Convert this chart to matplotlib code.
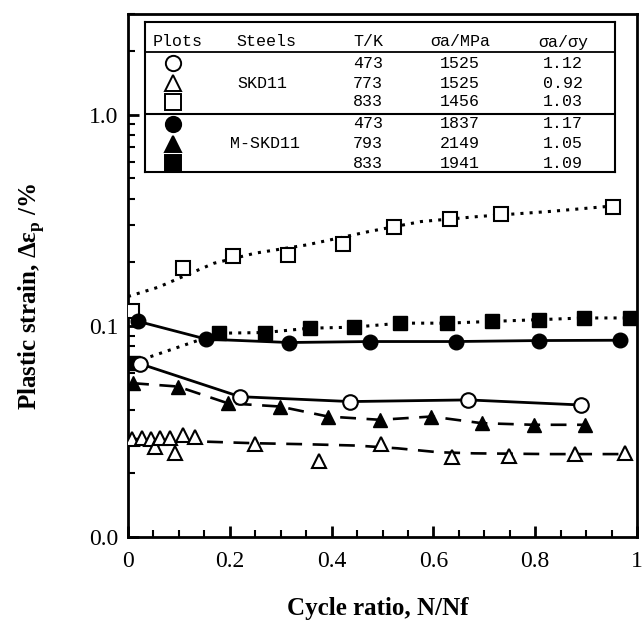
import matplotlib
matplotlib.use('Agg')
import matplotlib.pyplot as plt
from matplotlib.ticker import FixedLocator, FixedFormatter, NullFormatter

# ---------------- data ----------------
# SKD11, 473 K (open circles, solid line)
x_skd_473 = [0.024, 0.220, 0.437, 0.668, 0.890]
y_skd_473 = [0.0661, 0.0462, 0.0438, 0.0446, 0.0422]

# SKD11, 773 K (open triangles, dashed trend line)
x_skd_773 = [0.007, 0.027, 0.046, 0.053, 0.063, 0.082, 0.092, 0.108, 0.131,
             0.250, 0.376, 0.498, 0.637, 0.749, 0.878, 0.976]
y_skd_773 = [0.0290, 0.0294, 0.0290, 0.0266, 0.0294, 0.0294, 0.0251, 0.0304, 0.0299,
             0.0276, 0.0230, 0.0276, 0.0240, 0.0243, 0.0247, 0.0249]
fit_x_skd_773 = [0.0, 0.15, 0.25, 0.35, 0.45, 0.53, 0.61, 0.68, 0.83, 0.98]
fit_y_skd_773 = [0.0292, 0.0283, 0.0278, 0.0275, 0.0271, 0.0263, 0.0252, 0.0249, 0.0247, 0.0247]

# SKD11, 833 K (open squares, dotted trend line)
x_skd_833 = [0.008, 0.108, 0.206, 0.314, 0.423, 0.522, 0.632, 0.732, 0.953]
y_skd_833 = [0.117, 0.1875, 0.215, 0.217, 0.245, 0.294, 0.321, 0.340, 0.365]
fit_x_skd_833 = [0.0, 0.06, 0.108, 0.169, 0.25, 0.352, 0.474, 0.576, 0.691, 0.827, 0.943]
fit_y_skd_833 = [0.1377, 0.1526, 0.1713, 0.198, 0.221, 0.242, 0.280, 0.312, 0.330, 0.348, 0.368]

# M-SKD11, 473 K (filled circles, solid line)
x_m_473 = [0.020, 0.154, 0.316, 0.476, 0.644, 0.807, 0.966]
y_m_473 = [0.105, 0.0865, 0.0834, 0.0843, 0.0843, 0.0852, 0.0855]

# M-SKD11, 793 K (filled triangles, dashed line)
x_m_793 = [0.010, 0.098, 0.196, 0.298, 0.393, 0.495, 0.596, 0.695, 0.797, 0.898]
y_m_793 = [0.0535, 0.0516, 0.0430, 0.0415, 0.0372, 0.0359, 0.0372, 0.0346, 0.0340, 0.0340]

# M-SKD11, 833 K (filled squares, dotted line)
x_m_833 = [0.010, 0.179, 0.269, 0.357, 0.444, 0.535, 0.627, 0.715, 0.807, 0.895, 0.987]
y_m_833 = [0.0670, 0.0923, 0.0930, 0.0975, 0.0986, 0.103, 0.103, 0.105, 0.107, 0.109, 0.109]

# table inside the plot
tab_header = ['Plots', 'Steels', 'T/K', 'σa/MPa', 'σa/σy']
tab_steels = ['SKD11', 'M-SKD11']
tab_temps = ['473', '773', '833', '473', '793', '833']
tab_stress = ['1525', '1525', '1456', '1837', '2149', '1941']
tab_ratio = ['1.12', '0.92', '1.03', '1.17', '1.05', '1.09']

y_ticks = [0.01, 0.1, 1.0]
y_tick_labels = ['0.0', '0.1', '1.0']
x_ticks = [0, 0.2, 0.4, 0.6, 0.8, 1.0]
x_tick_labels = ['0', '0.2', '0.4', '0.6', '0.8', '1']

# ---------------- figure ----------------
plt.rcParams['font.family'] = ['Liberation Serif', 'DejaVu Serif']
W, H = 644, 634
fig = plt.figure(figsize=(W / 100, H / 100), dpi=100)


def fx(px):
    return px / W


def fy(py):
    return 1 - py / H


L, R, T, B = 128, 637, 14, 537
ax = fig.add_axes([fx(L), fy(B), (R - L) / W, (B - T) / H])
ax.set_yscale('log')
ax.set_xlim(0, 1)
ax.set_ylim(0.01, 3.0)

k = 'black'
dot = (0, (1, 2))
dash = (0, (6, 4))
ms = 10.5
mew = 1.5

# trend / connecting lines
ax.plot(fit_x_skd_833, fit_y_skd_833, color=k, lw=2.2, ls=dot, dash_capstyle='butt', zorder=2)
ax.plot(x_m_833, y_m_833, color=k, lw=2.2, ls=dot, dash_capstyle='butt', zorder=2)
ax.plot(x_m_473, y_m_473, color=k, lw=2.0, ls='-', zorder=2)
ax.plot(x_skd_473, y_skd_473, color=k, lw=2.0, ls='-', zorder=2)
ax.plot(x_m_793, y_m_793, color=k, lw=1.9, ls=dash, zorder=2)
ax.plot(fit_x_skd_773, fit_y_skd_773, color=k, lw=1.9, ls=dash, zorder=2)

# markers
ax.plot(x_skd_833, y_skd_833, ls='none', marker='s', ms=ms, mfc='white', mec=k, mew=mew, zorder=3)
ax.plot(x_m_833, y_m_833, ls='none', marker='s', ms=ms, mfc=k, mec=k, zorder=3)
ax.plot(x_m_473, y_m_473, ls='none', marker='o', ms=ms, mfc=k, mec=k, zorder=3)
ax.plot(x_skd_473, y_skd_473, ls='none', marker='o', ms=ms, mfc='white', mec=k, mew=mew, zorder=3)
ax.plot(x_m_793, y_m_793, ls='none', marker='^', ms=ms, mfc=k, mec=k, zorder=3)
ax.plot(x_skd_773, y_skd_773, ls='none', marker='^', ms=ms, mfc='white', mec=k, mew=mew, zorder=3)

# axes styling
for s in ax.spines.values():
    s.set_linewidth(2.0)
ax.yaxis.set_major_locator(FixedLocator(y_ticks))
ax.yaxis.set_major_formatter(FixedFormatter(y_tick_labels))
minor_y = [m * d for d in (0.01, 0.1, 1.0) for m in range(2, 10) if m * d <= 3.0]
ax.yaxis.set_minor_locator(FixedLocator(minor_y))
ax.yaxis.set_minor_formatter(NullFormatter())
ax.xaxis.set_major_locator(FixedLocator(x_ticks))
ax.xaxis.set_major_formatter(FixedFormatter(x_tick_labels))
ax.xaxis.set_minor_locator(FixedLocator([i * 0.05 for i in range(1, 20)]))
ax.tick_params(which='major', direction='in', length=8, width=2, labelsize=17)
ax.tick_params(which='minor', direction='in', length=5, width=1.5)
ax.tick_params(axis='y', which='major', pad=7)
ax.tick_params(axis='x', which='major', pad=10)

ax.set_ylabel('Plastic strain, Δε$_\\mathregular{p}$ /%', fontsize=18, fontweight='bold')
ax.yaxis.set_label_coords(-0.16, 0.46)
ax.set_xlabel('Cycle ratio, N/Nf', fontsize=18, fontweight='bold')
ax.xaxis.set_label_coords(0.49, -0.115)

# ---------------- table (legend) ----------------
tl, tr, tt, tb = 145, 615, 22, 172
lax = fig.add_axes([fx(tl), fy(tb), (tr - tl) / W, (tb - tt) / H])
lax.set_xlim(tl, tr)
lax.set_ylim(tb, tt)
lax.set_xticks([])
lax.set_yticks([])
for s in lax.spines.values():
    s.set_linewidth(1.5)
lax.axhline(52, color=k, lw=1.3)
lax.axhline(113.5, color=k, lw=1.5)

mono = dict(family=['Liberation Mono', 'DejaVu Sans Mono'], fontsize=12, ha='center', va='center')
col_x = [178, 266, 368, 460, 563]
for cx, txt in zip(col_x, tab_header):
    lax.text(cx, 42, txt, **mono)

row_y = [63, 83, 102, 124, 144, 163]
markers = ['o', '^', 's', 'o', '^', 's']
faces = ['white', 'white', 'white', k, k, k]
for ry, mk, fc, t, sa, r in zip(row_y, markers, faces, tab_temps, tab_stress, tab_ratio):
    lax.plot([172.5], [ry], marker=mk, ms=11, mfc=fc, mec=k, mew=1.4, ls='none')
    lax.text(col_x[2], ry, t, **mono)
    lax.text(col_x[3], ry, sa, **mono)
    lax.text(col_x[4], ry, r, **mono)
lax.text(262, 84, tab_steels[0], **mono)
lax.text(265, 144, tab_steels[1], **mono)

fig.savefig('out.png', dpi=100)
